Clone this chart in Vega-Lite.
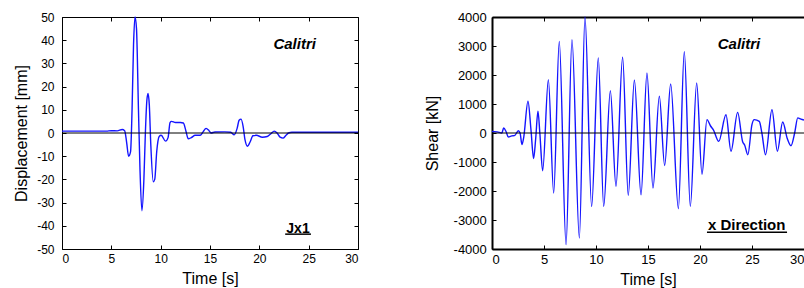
{
  "$schema": "https://vega.github.io/schema/vega-lite/v6.json",
  "padding": {"left": 13, "top": 11, "right": 0, "bottom": 0},
  "spacing": 63,
  "config": {
    "font": "Liberation Sans",
    "view": {"stroke": null},
    "axis": {
      "grid": false,
      "domainColor": "black",
      "tickColor": "black",
      "labelColor": "black",
      "titleColor": "black",
      "labelFont": "Liberation Sans",
      "titleFont": "Liberation Sans",
      "titleFontWeight": "normal",
      "titleFontSize": 16,
      "tickSize": -4
    }
  },
  "datasets": {
    "disp": [
      {"t": 0, "d": 0.8}, {"t": 4.5, "d": 0.8}, {"t": 5.0, "d": 1.0}, {"t": 5.6, "d": 0.9}, {"t": 6.1, "d": 1.5},
      {"t": 6.35, "d": 1.0}, {"t": 6.55, "d": -4}, {"t": 6.75, "d": -10}, {"t": 6.95, "d": -8}, {"t": 7.1, "d": 10},
      {"t": 7.25, "d": 38}, {"t": 7.4, "d": 50}, {"t": 7.55, "d": 45}, {"t": 7.75, "d": 10}, {"t": 7.9, "d": -15},
      {"t": 8.1, "d": -33.5}, {"t": 8.3, "d": -20}, {"t": 8.45, "d": 0}, {"t": 8.6, "d": 14}, {"t": 8.72, "d": 17},
      {"t": 8.85, "d": 12}, {"t": 9.0, "d": -5}, {"t": 9.25, "d": -21}, {"t": 9.4, "d": -20}, {"t": 9.6, "d": -8},
      {"t": 9.85, "d": -1.5}, {"t": 10.05, "d": -1}, {"t": 10.5, "d": -3.5}, {"t": 10.75, "d": -2}, {"t": 10.95, "d": 4.5},
      {"t": 11.1, "d": 5}, {"t": 11.5, "d": 4.5}, {"t": 12.0, "d": 4.5}, {"t": 12.3, "d": 4.3}, {"t": 12.55, "d": 1},
      {"t": 12.8, "d": -2.5}, {"t": 13.1, "d": -2}, {"t": 13.5, "d": -1}, {"t": 14.0, "d": -1}, {"t": 14.3, "d": 0.5},
      {"t": 14.6, "d": 2}, {"t": 14.9, "d": 1}, {"t": 15.1, "d": 0}, {"t": 15.5, "d": 0.4}, {"t": 16.5, "d": 0.5},
      {"t": 17.1, "d": 0.3}, {"t": 17.45, "d": -0.8}, {"t": 17.75, "d": 2}, {"t": 17.95, "d": 5.5}, {"t": 18.15, "d": 6},
      {"t": 18.35, "d": 3}, {"t": 18.55, "d": -3}, {"t": 18.8, "d": -5.7}, {"t": 19.05, "d": -4}, {"t": 19.35, "d": -1.2},
      {"t": 19.7, "d": -1}, {"t": 20.3, "d": -1.8}, {"t": 20.8, "d": -1.5}, {"t": 21.2, "d": -0.2}, {"t": 21.5, "d": 0.8},
      {"t": 21.8, "d": 0}, {"t": 22.1, "d": -1.8}, {"t": 22.4, "d": -2.2}, {"t": 22.7, "d": -1}, {"t": 22.95, "d": 0},
      {"t": 23.3, "d": 0.3}, {"t": 30, "d": 0.3}
    ],
    "shear": [
      {"t": 0, "v": 50}, {"t": 0.5, "v": 40}, {"t": 0.95, "v": 0}, {"t": 1.12, "v": 170}, {"t": 1.35, "v": 50},
      {"t": 1.57, "v": -140}, {"t": 1.9, "v": -100}, {"t": 2.2, "v": -80}, {"t": 2.53, "v": 80}, {"t": 2.7, "v": 0},
      {"t": 2.88, "v": -400}, {"t": 3.05, "v": -150}, {"t": 3.46, "v": 1100}, {"t": 3.75, "v": 100}, {"t": 4.0, "v": -880},
      {"t": 4.2, "v": -200}, {"t": 4.42, "v": 750}, {"t": 4.6, "v": 0}, {"t": 4.87, "v": -1300}, {"t": 5.42, "v": 1840},
      {"t": 5.93, "v": -2070}, {"t": 6.47, "v": 3160}, {"t": 7.12, "v": -3850}, {"t": 7.69, "v": 3220}, {"t": 8.4, "v": -3620},
      {"t": 8.94, "v": 4000}, {"t": 9.58, "v": -2530}, {"t": 10.22, "v": 2590}, {"t": 10.74, "v": -2530}, {"t": 11.38, "v": 1460},
      {"t": 11.92, "v": -1840}, {"t": 12.56, "v": 2610}, {"t": 13.1, "v": -2150}, {"t": 13.69, "v": 1830}, {"t": 14.33, "v": -2130},
      {"t": 14.9, "v": 2070}, {"t": 15.48, "v": -1900}, {"t": 16.09, "v": 1270}, {"t": 16.6, "v": -1120}, {"t": 17.18, "v": 1690},
      {"t": 17.92, "v": -2610}, {"t": 18.49, "v": 2800}, {"t": 19.07, "v": -2530}, {"t": 19.68, "v": 1730}, {"t": 20.19, "v": -1420},
      {"t": 20.67, "v": 460}, {"t": 21.0, "v": 250}, {"t": 21.3, "v": 100}, {"t": 21.8, "v": -290}, {"t": 22.5, "v": 630},
      {"t": 22.98, "v": -630}, {"t": 23.62, "v": 710}, {"t": 24.1, "v": -300}, {"t": 24.3, "v": -420}, {"t": 24.6, "v": -750},
      {"t": 25.0, "v": 300}, {"t": 25.22, "v": 460}, {"t": 25.7, "v": 400}, {"t": 25.95, "v": 0}, {"t": 26.3, "v": -750},
      {"t": 26.92, "v": 800}, {"t": 27.44, "v": -630}, {"t": 27.95, "v": 380}, {"t": 28.4, "v": -200}, {"t": 28.75, "v": -440},
      {"t": 29.1, "v": 0}, {"t": 29.4, "v": 520}, {"t": 29.7, "v": 480}, {"t": 30, "v": 450}
    ]
  },
  "hconcat": [
    {
      "width": 296,
      "height": 232,
      "resolve": {"axis": {"x": "independent", "y": "independent"}},
      "layer": [
        {
          "data": {"name": "disp"},
          "mark": {"type": "line", "color": "#1414ff", "strokeWidth": 1.4, "interpolate": "monotone"},
          "encoding": {
            "x": {"field": "t", "type": "quantitative", "scale": {"domain": [0, 30], "nice": false},
              "axis": {"orient": "bottom", "values": [0, 5, 10, 15, 20, 25, 30], "title": "Time [s]", "labelFontSize": 12, "labelPadding": 8.3, "titlePadding": 6, "domainWidth": 1}},
            "y": {"field": "d", "type": "quantitative", "scale": {"domain": [-50, 50], "nice": false},
              "axis": {"orient": "left", "values": [-50, -40, -30, -20, -10, 0, 10, 20, 30, 40, 50], "labelExpr": "'' + datum.value", "title": "Displacement [mm]", "labelFontSize": 12, "labelPadding": 12, "minExtent": 25, "maxExtent": 25, "titlePadding": 8, "domainWidth": 1}}
          }
        },
        {
          "data": {"values": [{"zero": 0}]},
          "mark": {"type": "rule", "color": "black", "strokeWidth": 1},
          "encoding": {"y": {"field": "zero", "type": "quantitative", "axis": null}}
        },
        {
          "data": {"values": [{"t": 23.58, "v": 36.1, "label": "Calitri"}]},
          "mark": {"type": "text", "font": "Liberation Sans", "fontWeight": "bold", "fontStyle": "italic", "fontSize": 15, "baseline": "alphabetic", "align": "center", "color": "black"},
          "encoding": {
            "x": {"field": "t", "type": "quantitative", "axis": {"orient": "top", "values": [0, 5, 10, 15, 20, 25, 30], "labels": false, "title": null, "domainWidth": 1, "minExtent": 0, "maxExtent": 0}},
            "y": {"field": "v", "type": "quantitative", "axis": {"orient": "right", "values": [-50, -40, -30, -20, -10, 0, 10, 20, 30, 40, 50], "labels": false, "title": null, "domainWidth": 1, "minExtent": 0, "maxExtent": 0}},
            "text": {"field": "label"}
          }
        },
        {
          "data": {"values": [{"t": 23.92, "v": -42.9, "label": "Jx1"}]},
          "mark": {"type": "text", "font": "Liberation Sans", "fontWeight": "bold", "fontSize": 14, "baseline": "alphabetic", "align": "center", "color": "black"},
          "encoding": {
            "x": {"field": "t", "type": "quantitative", "axis": null},
            "y": {"field": "v", "type": "quantitative", "axis": null},
            "text": {"field": "label"}
          }
        },
        {
          "data": {"values": [{"t1": 22.62, "t2": 25.23, "v": -43.6}]},
          "mark": {"type": "rule", "color": "black", "strokeWidth": 1.5},
          "encoding": {
            "x": {"field": "t1", "type": "quantitative", "axis": null},
            "x2": {"field": "t2"},
            "y": {"field": "v", "type": "quantitative", "axis": null}
          }
        }
      ]
    },
    {
      "width": 312,
      "height": 232,
      "resolve": {"axis": {"x": "independent", "y": "independent"}},
      "layer": [
        {
          "data": {"name": "shear"},
          "mark": {"type": "line", "color": "#1414ff", "strokeWidth": 1.4, "interpolate": "monotone"},
          "encoding": {
            "x": {"field": "t", "type": "quantitative", "scale": {"domain": [0, 30], "nice": false},
              "axis": {"orient": "bottom", "values": [0, 5, 10, 15, 20, 25, 30], "title": "Time [s]", "labelFontSize": 13, "labelPadding": 8.5, "titlePadding": 5, "domainWidth": 2}},
            "y": {"field": "v", "type": "quantitative", "scale": {"domain": [-4000, 4000], "nice": false},
              "axis": {"orient": "left", "values": [-4000, -3000, -2000, -1000, 0, 1000, 2000, 3000, 4000], "labelExpr": "'' + datum.value", "title": "Shear [kN]", "labelFontSize": 13, "labelPadding": 9.7, "minExtent": 42, "maxExtent": 42, "titlePadding": 9.5, "domainWidth": 2}}
          }
        },
        {
          "data": {"values": [{"zero": 0}]},
          "mark": {"type": "rule", "color": "black", "strokeWidth": 1},
          "encoding": {"y": {"field": "zero", "type": "quantitative", "axis": null}}
        },
        {
          "data": {"values": [{"t": 23.75, "v": 2897, "label": "Calitri"}]},
          "mark": {"type": "text", "font": "Liberation Sans", "fontWeight": "bold", "fontStyle": "italic", "fontSize": 15, "baseline": "alphabetic", "align": "center", "color": "black"},
          "encoding": {
            "x": {"field": "t", "type": "quantitative", "axis": {"orient": "top", "values": [0, 5, 10, 15, 20, 25, 30], "labels": false, "title": null, "domainWidth": 2, "minExtent": 0, "maxExtent": 0}},
            "y": {"field": "v", "type": "quantitative", "axis": null},
            "text": {"field": "label"}
          }
        },
        {
          "data": {"values": [{"t": 24.49, "v": -3334, "label": "x Direction"}]},
          "mark": {"type": "text", "font": "Liberation Sans", "fontWeight": "bold", "fontSize": 15, "baseline": "alphabetic", "align": "center", "color": "black"},
          "encoding": {
            "x": {"field": "t", "type": "quantitative", "axis": null},
            "y": {"field": "v", "type": "quantitative", "axis": null},
            "text": {"field": "label"}
          }
        },
        {
          "data": {"values": [{"t1": 20.67, "t2": 28.37, "v": -3420}]},
          "mark": {"type": "rule", "color": "black", "strokeWidth": 1.5},
          "encoding": {
            "x": {"field": "t1", "type": "quantitative", "axis": null},
            "x2": {"field": "t2"},
            "y": {"field": "v", "type": "quantitative", "axis": null}
          }
        }
      ]
    }
  ]
}
